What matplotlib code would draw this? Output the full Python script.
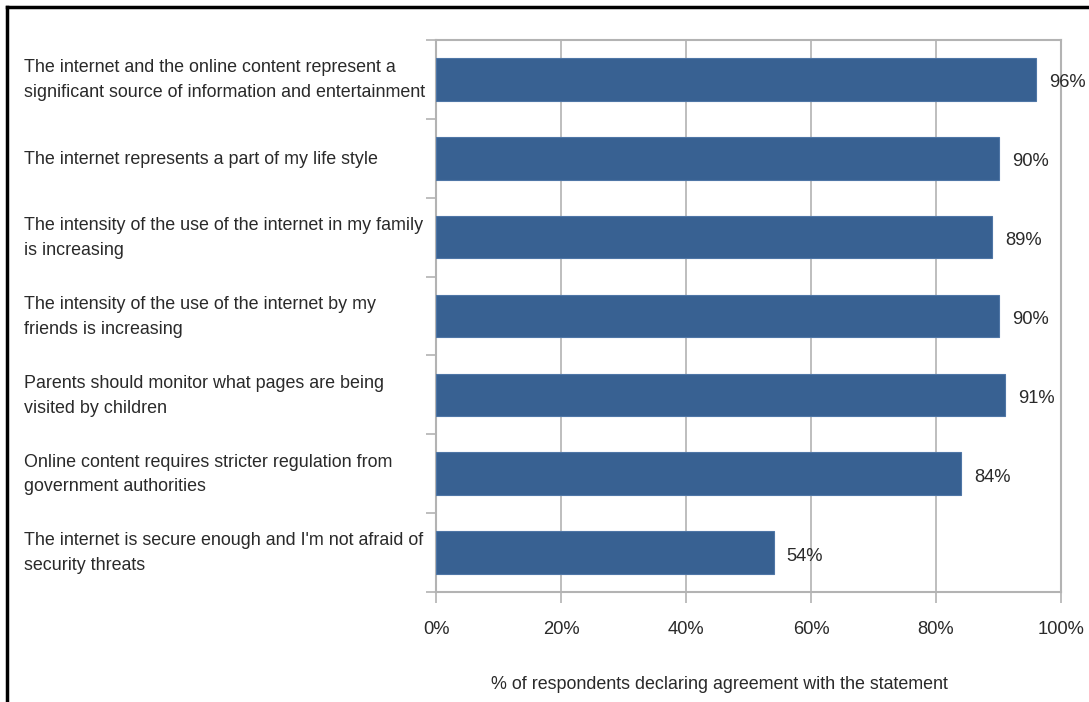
import matplotlib

matplotlib.use("Agg")
import matplotlib.pyplot as plt
from matplotlib.lines import Line2D
from matplotlib.transforms import blended_transform_factory

statements = [
    "The internet and the online content represent a\nsignificant source of information and entertainment",
    "The internet represents a part of my life style",
    "The intensity of the use of the internet in my family\nis increasing",
    "The intensity of the use of the internet by my\nfriends is increasing",
    "Parents should monitor what pages are being\nvisited by children",
    "Online content requires stricter regulation from\ngovernment authorities",
    "The internet is secure enough and I'm not afraid of\nsecurity threats",
]
agreement = [96, 90, 89, 90, 91, 84, 54]
x_ticks = [0, 20, 40, 60, 80, 100]
x_tick_labels = ["0%", "20%", "40%", "60%", "80%", "100%"]

plt.rcParams["font.family"] = ["Liberation Sans", "DejaVu Sans"]

fig = plt.figure(figsize=(10.89, 7.02), dpi=100)
ax = fig.add_axes([0.4004, 0.1567, 0.5739, 0.7863])

n = len(statements)
ys = list(range(n))
ax.barh(ys, agreement, height=0.54, color="#386192", edgecolor="#4f76a6", linewidth=0.8, zorder=3)
ax.set_ylim(n - 0.5, -0.5)
ax.set_xlim(0, 100)

grid_color = "#b3b3b3"
for x in x_ticks[1:]:
    ax.axvline(x, color=grid_color, linewidth=1.2, zorder=1)

for side in ["top", "right", "left", "bottom"]:
    ax.spines[side].set_color(grid_color)
    ax.spines[side].set_linewidth(1.5)

ax.set_yticks([i - 0.5 for i in range(n + 1)])
ax.set_yticklabels([])
ax.tick_params(axis="y", length=7, color=grid_color, width=1.2)
ax.set_xticks(x_ticks)
ax.set_xticklabels(x_tick_labels, fontsize=13.2, color="#2a2a2a")
ax.tick_params(axis="x", length=8, color=grid_color, width=1.2, pad=13)

trans = blended_transform_factory(fig.transFigure, ax.transData)
for y, label in zip(ys, statements):
    ax.text(24 / 1089, y + 0.01, label, transform=trans, ha="left", va="center",
            fontsize=12.9, color="#2a2a2a", linespacing=1.6)

for y, v in zip(ys, agreement):
    ax.annotate(f"{v}%", (v, y), xytext=(9.5, -2.5), textcoords="offset points",
                ha="left", va="center", fontsize=13.2, color="#2a2a2a")

ax.set_xlabel("% of respondents declaring agreement with the statement",
              fontsize=12.9, color="#2a2a2a", labelpad=26)
ax.xaxis.set_label_coords(0.4536, -0.152)

fig.add_artist(Line2D([7 / 1089, 1.0], [1 - 7 / 702, 1 - 7 / 702], color="black", linewidth=2.5,
                      transform=fig.transFigure))
fig.add_artist(Line2D([7 / 1089, 7 / 1089], [0, 1 - 7 / 702], color="black", linewidth=2.5,
                      transform=fig.transFigure))

fig.savefig("out.png", dpi=100)
